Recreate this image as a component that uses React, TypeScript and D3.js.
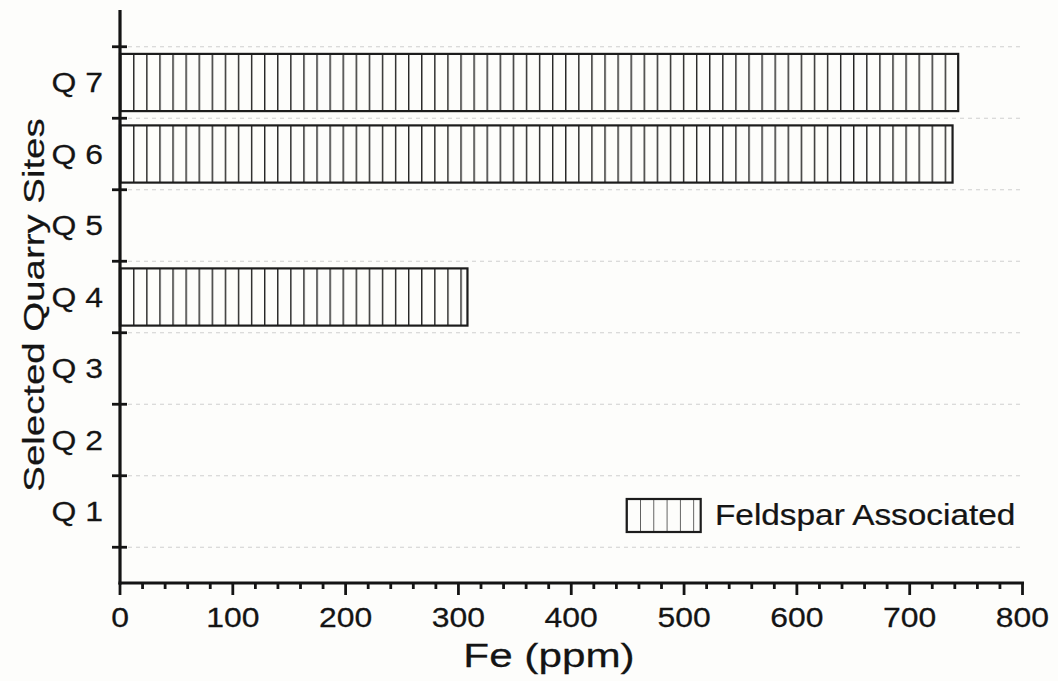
import React from 'react';
import * as d3 from 'd3';

// ---------- data ----------
const sites = ['Q 1', 'Q 2', 'Q 3', 'Q 4', 'Q 5', 'Q 6', 'Q 7'];
const feValues: (number | null)[] = [null, null, null, 308, null, 738, 743];
const xTicks = [0, 100, 200, 300, 400, 500, 600, 700, 800];
const seriesName = 'Feldspar Associated';
const xTitle = 'Fe (ppm)';
const yTitle = 'Selected Quarry Sites';

const width = 1058;
const height = 681;
const font = '"Liberation Sans", Arial, Helvetica, sans-serif';
const ink = '#141414';

export default function App() {
  const x = d3.scaleLinear().domain([0, 800]).range([120, 1022.5]);
  const y = d3.scaleLinear().domain([0, 8]).range([583, 11]);
  const bandH = y(0) - y(0.8);

  // tick positions between the categories (0.5 ... 7.5)
  const yTickVals = d3.range(0, sites.length + 1).map(d => d + 0.5);
  const minorTicks = d3.range(0, 801, 20).filter(d => d % 100 !== 0);

  const txt = { fontFamily: font, fill: ink, stroke: ink, strokeWidth: 0.25 };

  return (
    <svg width={width} height={height} style={{ position: 'absolute', left: 0, top: 0, background: '#fdfdfb' }}>
      <defs>
        <pattern id="vlines" patternUnits="userSpaceOnUse" x={x(0)} y={0} width={13.09} height={20}>
          <line x1={0.7} y1={0} x2={0.7} y2={20} stroke="#222" strokeWidth={1.4} />
        </pattern>
        <pattern id="vlinesLegend" patternUnits="userSpaceOnUse" x={626.7} y={0} width={13.3} height={20}>
          <line x1={0} y1={0} x2={0} y2={20} stroke="#222" strokeWidth={1.4} />
        </pattern>
      </defs>

      {/* grid */}
      {yTickVals.map(v => (
        <line key={'g' + v} x1={x(0)} x2={x(800)} y1={y(v)} y2={y(v)}
          stroke="#cfcfcf" strokeWidth={1} strokeDasharray="4,4" />
      ))}

      {/* bars */}
      {feValues.map((v, i) => v == null ? null : (
        <rect key={'b' + i} x={x(0)} y={y(i + 1) - bandH / 2} width={x(v) - x(0)} height={bandH}
          fill="url(#vlines)" stroke="#1c1c1c" strokeWidth={2.2} />
      ))}

      {/* y axis */}
      <line x1={x(0)} x2={x(0)} y1={y(8) - 1} y2={y(0) + 1.5} stroke={ink} strokeWidth={3.2} />
      {yTickVals.map(v => (
        <line key={'yt' + v} x1={x(0) - 8} x2={x(0) + 7} y1={y(v)} y2={y(v)} stroke={ink} strokeWidth={2.8} />
      ))}
      {sites.map((s, i) => (
        <text key={s} transform={`translate(103,${y(i + 1)}) scale(1.14,1)`} textAnchor="end" dy="0.35em"
          fontSize={28} {...txt}>{s}</text>
      ))}

      {/* x axis */}
      <line x1={x(0) - 1.5} x2={x(800) + 1.5} y1={y(0)} y2={y(0)} stroke={ink} strokeWidth={3.2} />
      {xTicks.map(t => (
        <line key={'xt' + t} x1={x(t)} x2={x(t)} y1={y(0)} y2={y(0) + 12} stroke={ink} strokeWidth={2.8} />
      ))}
      {minorTicks.map(t => (
        <line key={'xm' + t} x1={x(t)} x2={x(t)} y1={y(0)} y2={y(0) + 6} stroke={ink} strokeWidth={2.8} />
      ))}
      {xTicks.map(t => (
        <text key={'xl' + t} transform={`translate(${x(t)},627) scale(1.14,1)`} textAnchor="middle"
          fontSize={28} {...txt}>{t}</text>
      ))}

      {/* titles */}
      <text transform="translate(549,667) scale(1.28,1)" textAnchor="middle"
        fontSize={33} {...txt}>{xTitle}</text>
      <text transform="translate(44,305) rotate(-90) scale(1.28,1)" textAnchor="middle"
        fontSize={30} {...txt}>{yTitle}</text>

      {/* legend */}
      <rect x={626.7} y={499} width={74} height={33} fill="url(#vlinesLegend)" stroke="#1c1c1c" strokeWidth={2.2} />
      <text transform="translate(715,525) scale(1.15,1)" fontSize={29} {...txt}>{seriesName}</text>
    </svg>
  );
}
